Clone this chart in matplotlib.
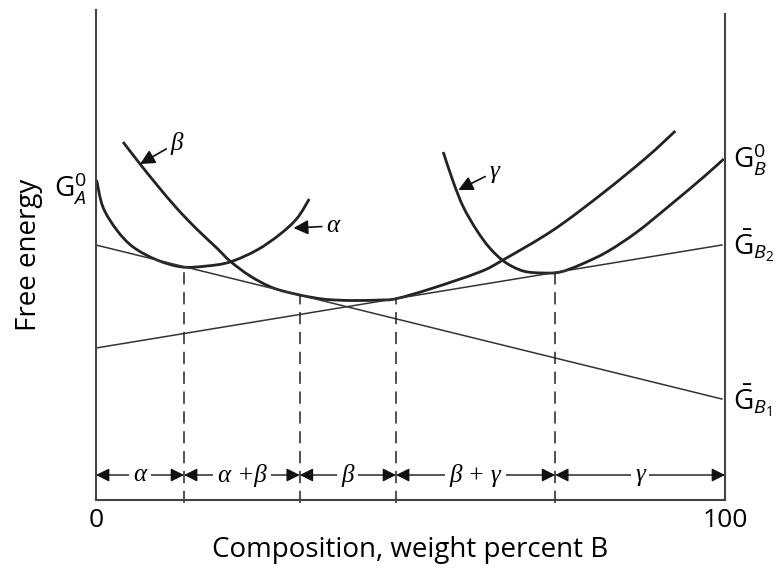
import matplotlib.pyplot as plt
from matplotlib.path import Path
from matplotlib.patches import PathPatch

plt.rcParams["font.family"] = ["Open Sans", "DejaVu Sans"]
plt.rcParams["mathtext.fontset"] = "custom"
plt.rcParams["mathtext.rm"] = "Open Sans"
plt.rcParams["mathtext.it"] = "Open Sans:italic"

# free energy curves (x = wt% B, y = arbitrary energy)
alpha_x = [0.1, 1.1, 3.3, 5.9, 9.7, 13.7, 17.6, 21.3, 25.6, 29.3, 32.0, 33.9]
alpha_y = [320, 293, 270, 253, 240, 233, 234, 238, 250, 266, 282, 301]

beta_x = [4.3, 7.0, 9.7, 12.8, 16.0, 19.2, 21.3, 24.5, 28.2, 32.4, 36.0,
          38.8, 41.6, 45.2, 47.7, 53.1, 61.0, 64.7, 72.7, 80.6, 87.6, 92.1]
beta_y = [358, 336, 315, 292, 271, 252, 239, 224, 212, 205, 201,
          199.8, 199.5, 200, 201.3, 211, 228, 240, 270, 307, 343, 369]

gamma_x = [55.2, 56.8, 58.4, 60.5, 62.6, 65.0, 67.9, 71.1, 73.8, 76.9,
           81.2, 86.0, 91.3, 96.6, 99.8]
gamma_y = [348, 318, 293, 270, 252, 238, 229, 227, 228, 235,
           248, 268, 295, 323, 341]

# common tangent lines (end points)
tan1_x = [0, 99.5]
tan1_y = [255, 101]
tan2_x = [0, 99.5]
tan2_y = [152, 255]

# phase boundaries and where the dashed lines stop
bound_x = [14.0, 32.4, 47.7, 73.0]
bound_top = [233, 205, 201, 227]

regions = [0, 14.0, 32.4, 47.7, 73.0, 100]
region_labels = ["α", "α +β", "β", "β + γ", "γ"]


def smooth_path(xs, ys):
    # catmull-rom through the read points, drawn as cubic bezier segments
    pts = list(zip(xs, ys))
    verts = [pts[0]]
    codes = [Path.MOVETO]
    for i in range(len(pts) - 1):
        p0 = pts[i - 1] if i > 0 else pts[i]
        p1 = pts[i]
        p2 = pts[i + 1]
        p3 = pts[i + 2] if i + 2 < len(pts) else pts[i + 1]
        c1 = (p1[0] + (p2[0] - p0[0]) / 6, p1[1] + (p2[1] - p0[1]) / 6)
        c2 = (p2[0] - (p3[0] - p1[0]) / 6, p2[1] - (p3[1] - p1[1]) / 6)
        verts += [c1, c2, p2]
        codes += [Path.CURVE4] * 3
    return Path(verts, codes)


fig = plt.figure(figsize=(7.78, 5.68), dpi=100)
ax = fig.add_axes([0.1234, 0.1197, 0.8085, 0.8627])

for cx, cy in [(alpha_x, alpha_y), (beta_x, beta_y), (gamma_x, gamma_y)]:
    ax.add_patch(PathPatch(smooth_path(cx, cy), facecolor="none",
                           edgecolor="#222222", lw=2, capstyle="butt"))
ax.plot(tan1_x, tan1_y, color="#333333", lw=1.1)
ax.plot(tan2_x, tan2_y, color="#333333", lw=1.1)

for bx, top in zip(bound_x, bound_top):
    ax.plot([bx, bx], [-3, top], color="#222222", lw=1.1,
            dashes=(8, 5), clip_on=False)

# region arrows along the bottom
row_y = 25
for i, lab in enumerate(region_labels):
    x0, x1 = regions[i], regions[i + 1]
    ax.annotate("", xy=(x1, row_y), xytext=(x0, row_y),
                arrowprops=dict(arrowstyle="<|-|>", color="#111111", lw=1,
                                shrinkA=0, shrinkB=0, mutation_scale=20))
    ax.text((x0 + x1) / 2, row_y, lab, family="Liberation Serif",
            style="italic", fontsize=18, ha="center", va="center",
            bbox=dict(facecolor="white", edgecolor="none", pad=3))

# curve callouts
arrow_kw = dict(arrowstyle="-|>", color="#111111", lw=1.2,
                mutation_scale=22, shrinkA=1, shrinkB=0)
ax.annotate("β", xy=(7.0, 336), xytext=(12.8, 357), family="Liberation Serif",
            style="italic", fontsize=18, ha="center", va="center",
            arrowprops=arrow_kw)
ax.annotate("α", xy=(31.4, 272), xytext=(37.6, 274), family="Liberation Serif",
            style="italic", fontsize=18, ha="center", va="center",
            arrowprops=arrow_kw)
ax.annotate("γ", xy=(57.6, 310), xytext=(63.3, 328), family="Liberation Serif",
            style="italic", fontsize=18, ha="center", va="center",
            arrowprops=arrow_kw)

# end labels
ax.text(-1.5, 312, r"$\mathrm{G}_{A}^{0}$", fontsize=20, ha="right", va="center")
ax.text(101.3, 341, r"$\mathrm{G}_{B}^{0}$", fontsize=20, ha="left", va="center")
ax.text(101.3, 255, r"$\bar{\mathrm{G}}_{B_2}$", fontsize=20, ha="left", va="center")
ax.text(101.3, 100, r"$\bar{\mathrm{G}}_{B_1}$", fontsize=20, ha="left", va="center")

ax.set_xlim(0, 100)
ax.set_ylim(0, 490)
ax.set_xticks([0, 100])
ax.set_xticklabels(["0", "100"], fontsize=19)
ax.set_yticks([])
ax.tick_params(axis="x", length=0, pad=6)
ax.spines["top"].set_visible(False)
for s in ["left", "right", "bottom"]:
    ax.spines[s].set_color("#444444")
    ax.spines[s].set_linewidth(1.5)
ax.spines["right"].set_bounds(0, 486)

ax.set_xlabel("Composition, weight percent B", fontsize=20, labelpad=2)
ax.set_ylabel("Free energy", fontsize=20)
ax.yaxis.set_label_coords(-0.084, 0.5)

plt.savefig("out.png", dpi=100)
